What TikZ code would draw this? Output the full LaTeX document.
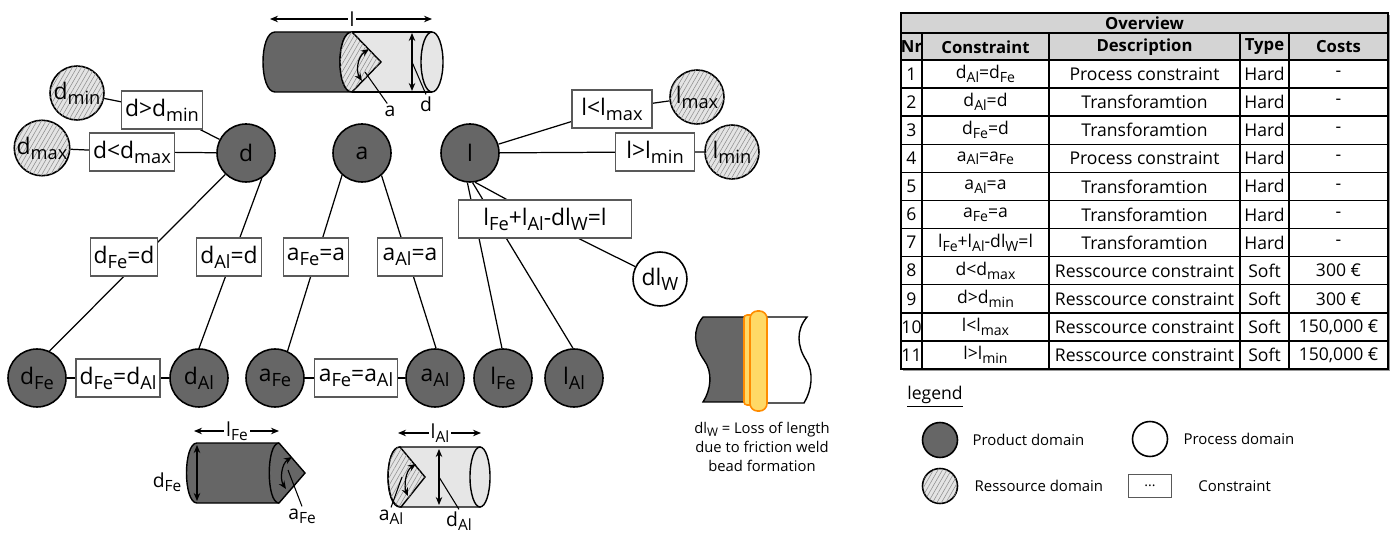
\documentclass[tikz,border=0pt]{standalone}
\usepackage{fontspec}
\setmainfont{Open Sans}
\usepackage{xcolor}
\usepackage{tikz}
\usetikzlibrary{positioning,arrows.meta,patterns.meta,backgrounds}

\definecolor{prodgray}{HTML}{666666}
\definecolor{resgray}{HTML}{E4E4E4}
\definecolor{partlight}{HTML}{E6E6E6}
\definecolor{headgray}{HTML}{D4D4D4}
\definecolor{beadfill}{HTML}{FFD966}
\definecolor{beadline}{HTML}{FF8C00}

% index set a bit lower and larger than \textsubscript
\newcommand{\idx}[1]{\raisebox{-0.42ex}{\scalebox{0.8}{#1}}}

\begin{document}
\begin{tikzpicture}[
    x=0.02cm, y=-0.02cm,
    >={Stealth[length=1.6mm,width=1.3mm]},
    hatch/.style={fill=resgray, postaction={pattern={Lines[angle=60,distance=2.2pt,line width=0.3pt]}, pattern color=black!45}},
    prod/.style={circle, draw=black, fill=prodgray, minimum size=1.16cm, inner sep=0pt, line width=0.9pt, font=\fontsize{13}{15}\selectfont},
    res/.style={circle, draw=black, hatch, minimum size=1.08cm, inner sep=0pt, line width=0.9pt, font=\fontsize{13}{15}\selectfont},
    proc/.style={circle, draw=black, fill=white, minimum size=1.08cm, inner sep=0pt, line width=0.9pt, font=\fontsize{13}{15}\selectfont},
    cons/.style={rectangle, draw=black!65, fill=white, minimum height=0.76cm, inner sep=2pt, line width=0.7pt, font=\fontsize{13}{15}\selectfont},
    link/.style={line width=0.7pt, draw=black},
    part/.style={line width=0.8pt, draw=black},
    dimln/.style={<->, line width=0.7pt},
    ptr/.style={line width=0.6pt},
    lbl/.style={font=\fontsize{11}{13}\selectfont, inner sep=1pt},
    bead/.style={fill=beadfill, draw=beadline, line width=0.9pt},
    grid/.style={line width=0.8pt, draw=black},
    cell/.style={font=\fontsize{10}{11}\selectfont, inner sep=0pt},
    hdr/.style={cell, font=\fontsize{9.5}{11}\selectfont\bfseries},
    legtxt/.style={font=\fontsize{8.5}{10}\selectfont, inner sep=0pt},
    note/.style={font=\fontsize{8.4}{11}\selectfont, align=center, inner sep=0pt}
]
\useasboundingbox (0,0) rectangle (1396,533);

% Product domain
\node[prod] (d) at (246,153) {d};
\node[prod] (a) at (362,153) {a};
\node[prod] (l) at (470,153) {l};
\node[prod] (dFe) at (37,378) {d\idx{Fe}};
\node[prod] (dAl) at (199,378) {d\idx{Al}};
\node[prod] (aFe) at (275,378) {a\idx{Fe}};
\node[prod] (aAl) at (435,378) {a\idx{Al}};
\node[prod] (lFe) at (503,378) {l\idx{Fe}};
\node[prod] (lAl) at (574,378) {l\idx{Al}};

% Ressource domain
\node[res] (dmin) at (77,93) {d\idx{min}};
\node[res] (dmax) at (42,148) {d\idx{max}};
\node[res] (lmax) at (697,97) {l\idx{max}};
\node[res] (lmin) at (732,152) {l\idx{min}};

% Process domain
\node[proc] (dlW) at (660,279) {dl\idx{W}};

% Constraints
\node[cons, minimum width=1.58cm] (dgt) at (162,110) {d>d\idx{min}};
\node[cons, minimum width=1.58cm] (dlt) at (132,152) {d<d\idx{max}};
\node[cons, minimum width=1.6cm] (llt) at (612,109) {l<l\idx{max}};
\node[cons, minimum width=1.58cm] (lgt) at (655,152) {l>l\idx{min}};
\node[cons, minimum width=1.3cm] (dFeD) at (124,257) {d\idx{Fe}=d};
\node[cons, minimum width=1.3cm] (dAlD) at (229,257) {d\idx{Al}=d};
\node[cons, minimum width=1.3cm] (aFeA) at (316,257) {a\idx{Fe}=a};
\node[cons, minimum width=1.3cm] (aAlA) at (410,257) {a\idx{Al}=a};
\node[cons, minimum width=3.46cm] (lsum) at (545,219) {l\idx{Fe}+l\idx{Al}-dl\idx{W}=l};
\node[cons, minimum width=1.66cm] (dFeAl) at (118,378) {d\idx{Fe}=d\idx{Al}};
\node[cons, minimum width=1.66cm] (aFeAl) at (356,378) {a\idx{Fe}=a\idx{Al}};

% === Connectors (behind the boxes) ===
\begin{scope}[on background layer]
\fill[white] (0,0) rectangle (1396,533);
\draw[link] (dmin) -- (dgt) -- (d);
\draw[link] (dmax) -- (dlt) -- (d);
\draw[link] (l) -- (llt) -- (lmax);
\draw[link] (l) -- (lgt) -- (lmin);
\draw[link] (d.-134) -- (dFe.65);
\draw[link] (d.-58) -- (dAl.90);
\draw[link] (a.-132) -- (aFe.65);
\draw[link] (a.-49) -- (aAl.88);
\draw[link] (l.-95) -- (lFe.92);
\draw[link] (l.-85) -- (lAl.92);
\draw[link] (l.-80) -- (lsum.153);
\draw[link] (lsum.-30) -- (dlW);
\draw[link] (dFe) -- (dFeAl) -- (dAl);
\draw[link] (aFe) -- (aFeAl) -- (aAl);
\end{scope}

% Joined part with angle a, diameter d and length l
\fill[partlight] (352,32) -- (432,32) -- (432,92) -- (352,92) -- cycle;
\draw[part] (352,32) -- (432,32) (352,92) -- (432,92);
\draw[part, fill=partlight] (432,62) ellipse [x radius=0.22cm, y radius=0.6cm];
\draw[part, fill=prodgray] (352,32) .. controls (336,32) and (336,92) .. (352,92) -- (275,92) .. controls (259,92) and (259,32) .. (275,32) -- cycle;
\draw[part, hatch] (352,32) -- (381,62) -- (352,92) .. controls (336,92) and (336,32) .. (352,32) -- cycle;
\draw[dimln] (369,49) .. controls (357,57) and (356,72) .. (362,81);
\draw[dimln] (412,33) -- (412,91);
\draw[dimln] (270,19) -- (432,19);
\node[lbl, fill=white] (lblL) at (352,19) {l};
\node[lbl] (lblA) at (390,111) {a};
\node[lbl] (lblD) at (426,104) {d};
\draw[ptr] (lblA.110) -- (365,72);
\draw[ptr] (lblD.north) -- (412,62);

% Steel part
\draw[part, fill=prodgray] (197,443) -- (279,443) -- (305,473) -- (279,503) -- (197,503) .. controls (183,503) and (183,443) .. (197,443) -- cycle;
\draw[part] (279,443) .. controls (266,443) and (266,503) .. (279,503);
\draw[dimln] (197,445) -- (197,501);
\draw[dimln] (194,431) -- (279,431);
\draw[dimln] (292,457) .. controls (281,464) and (280,480) .. (286,489);
\node[lbl, fill=white] (lblLFe) at (237,431) {l\idx{Fe}};
\node[lbl] (lblDFe) at (167,482) {d\idx{Fe}};
\node[lbl] (lblAFe) at (302,516) {a\idx{Fe}};
\draw[ptr] (lblAFe.north) -- (288,470);

% Aluminium part
\draw[part, fill=partlight] (400,447) -- (480,447) -- (480,507) -- (400,507) .. controls (384,507) and (384,447) .. (400,447) -- cycle;
\draw[part, hatch] (400,447) -- (425,477) -- (401,507) .. controls (384,507) and (384,447) .. (400,447) -- cycle;
\draw[part, fill=partlight] (480,477) ellipse [x radius=0.2cm, y radius=0.6cm];
\draw[dimln] (439,449) -- (439,505);
\draw[dimln] (398,433) -- (481,433);
\draw[dimln] (416,464) .. controls (405,471) and (404,487) .. (408,496);
\node[lbl, fill=white] (lblLAl) at (440,433) {l\idx{Al}};
\node[lbl] (lblAAl) at (391,517) {a\idx{Al}};
\node[lbl] (lblDAl) at (459,521) {d\idx{Al}};
\draw[ptr] (lblAAl.north) -- (402,477);
\draw[ptr] (lblDAl.north) -- (439,477);

% Weld bead
\draw[part, fill=prodgray] (703,317) -- (746,317) -- (746,402) -- (703,402) .. controls (711,390) and (713,372) .. (704,360) .. controls (694,346) and (692,330) .. (703,317) -- cycle;
\draw[part, fill=white] (746,317) -- (807,317) .. controls (796,330) and (797,346) .. (806,360) .. controls (814,372) and (812,390) .. (804,403) -- (746,403);
\draw[bead, rounded corners=0.06cm] (744,315) rectangle (753,405);
\draw[bead, rounded corners=0.15cm] (750,311) rectangle (767,411);
\node[note] (weldnote) at (762,447) {dl\idx{W} = Loss of length\\due to friction weld\\bead formation};

% Overview table
\fill[black!40] (903,15) rectangle (1390,371);
\fill[white] (901,13) rectangle (1388,369);
\fill[headgray] (901,13) rectangle (1388,60);
\draw[grid] (901,33) -- (1388,33);
\foreach \i in {0,...,10}
  \draw[grid] (901,{60+28.09*\i}) -- (1388,{60+28.09*\i});
\foreach \cx in {922,1049,1240,1289}
  \draw[grid] (\cx,33) -- (\cx,369);
\draw[line width=1.1pt] (901,13) rectangle (1388,369);

\node[hdr] (ovw) at (1144.5,23) {Overview};
\node[hdr] (hNr) at (911.5,47) {Nr};
\node[hdr] (hCon) at (985.5,47) {Constraint};
\node[hdr] (hDesc) at (1144.5,47) {Description};
\node[hdr] (hType) at (1264.5,47) {Type};
\node[hdr] (hCost) at (1338.5,47) {Costs};

\foreach \nr/\con/\desc/\typ/\cost in {
    1/{d\idx{Al}=d\idx{Fe}}/Process constraint/Hard/-,
    2/{d\idx{Al}=d}/Transforamtion/Hard/-,
    3/{d\idx{Fe}=d}/Transforamtion/Hard/-,
    4/{a\idx{Al}=a\idx{Fe}}/Process constraint/Hard/-,
    5/{a\idx{Al}=a}/Transforamtion/Hard/-,
    6/{a\idx{Fe}=a}/Transforamtion/Hard/-,
    7/{l\idx{Fe}+l\idx{Al}-dl\idx{W}=l}/Transforamtion/Hard/-,
    8/{d<d\idx{max}}/Resscource constraint/Soft/{300~€},
    9/{d>d\idx{min}}/Resscource constraint/Soft/{300~€},
    10/{l<l\idx{max}}/Resscource constraint/Soft/{150,000~€},
    11/{l>l\idx{min}}/Resscource constraint/Soft/{150,000~€}}{
  \pgfmathsetmacro{\ry}{60+28.09*(\nr-0.5)}
  \node[cell] (nr-\nr) at (911.5,\ry) {\nr};
  \node[cell] (con-\nr) at (985.5,\ry) {\con};
  \node[cell] (desc-\nr) at (1144.5,\ry) {\desc};
  \node[cell] (type-\nr) at (1264.5,\ry) {\typ};
  \node[cell] (cost-\nr) at (1338.5,\ry) {\cost};
}

% Legend
\node[anchor=west, font=\fontsize{10}{12}\selectfont, inner sep=0pt] (lgTitle) at (907,397) {\underline{legend}};
\node[prod, minimum size=0.7cm] (lgProd) at (940,440) {};
\node[legtxt, right=0.28cm of lgProd] (lgProdT) {Product domain};
\node[res, minimum size=0.7cm] (lgRes) at (940,486) {};
\node[legtxt, right=0.32cm of lgRes] (lgResT) {Ressource domain};
\node[proc, minimum size=0.7cm] (lgProc) at (1150,439) {};
\node[legtxt, right=0.3cm of lgProc] (lgProcT) {Process domain};
\node[cons, minimum width=0.86cm, minimum height=0.46cm, font=\fontsize{8}{9}\selectfont] (lgCons) at (1150,486) {...};
\node[legtxt, right=0.52cm of lgCons] (lgConsT) {Constraint};

\end{tikzpicture}
\end{document}
